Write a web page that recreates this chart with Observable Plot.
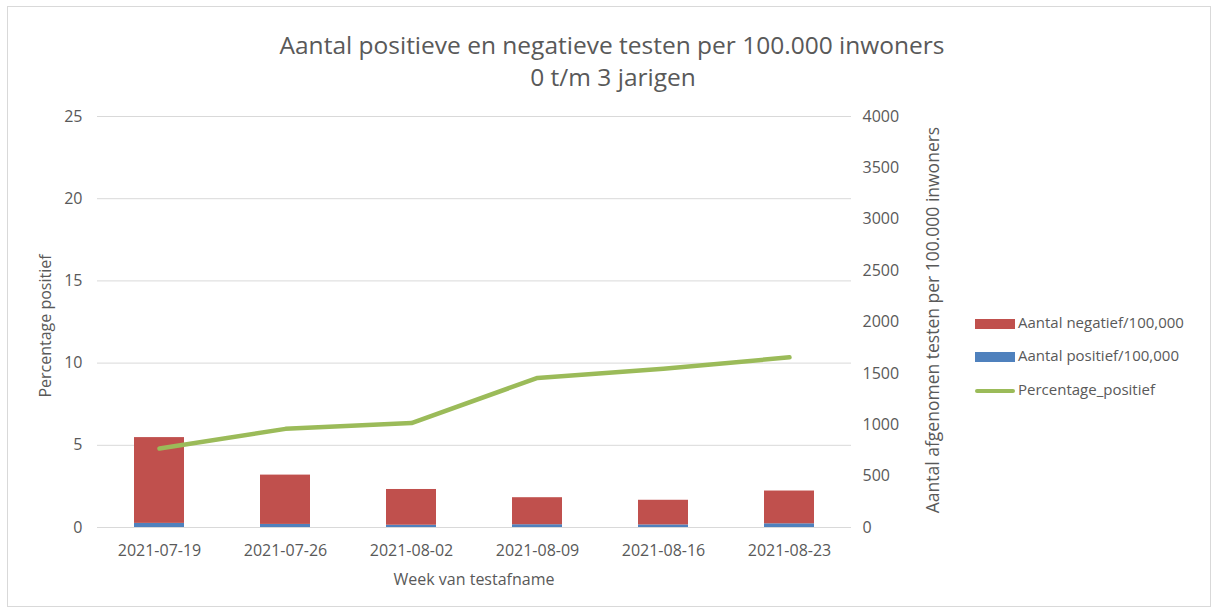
<!DOCTYPE html>
<html><head><meta charset="utf-8">
<script src="https://cdn.jsdelivr.net/npm/d3@7"></script>
<script src="https://cdn.jsdelivr.net/npm/@observablehq/plot@0.6"></script>
<style>
body{margin:0;background:#fff;font-family:"Open Sans",sans-serif;color:#595959;}
#wrap{position:relative;width:1219px;height:615px;overflow:hidden;}
#border{position:absolute;left:7px;top:6px;width:1204px;height:601px;border:1px solid #d9d9d9;box-sizing:border-box;}
.t{position:absolute;white-space:nowrap;transform:translate(-50%,-50%);}
.rot{transform:translate(-50%,-50%) rotate(-90deg);}
#plot{position:absolute;left:0;top:0;}
.lg{position:absolute;left:975px;font-size:15px;white-space:nowrap;}
.lg span.sw{display:inline-block;width:40px;vertical-align:middle;margin-right:3px;}
</style></head><body>
<div id="wrap">
<div id="border"></div>
<div id="plot"></div>
<div class="t" style="left:612px;top:44px;font-size:24.5px;">Aantal positieve en negatieve testen per 100.000 inwoners</div>
<div class="t" style="left:613px;top:76px;font-size:24.5px;">0 t/m 3 jarigen</div>
<div class="t rot" style="left:45px;top:326px;font-size:16px;">Percentage positief</div>
<div class="t rot" style="left:932px;top:320px;font-size:17.5px;">Aantal afgenomen testen per 100.000 inwoners</div>
<div class="t" style="left:474px;top:579px;font-size:16px;">Week van testafname</div>
<div id="legend"></div>
</div>
<script>
const weeks = ["2021-07-19","2021-07-26","2021-08-02","2021-08-09","2021-08-16","2021-08-23"];
const positief = [40, 30, 22, 27, 25, 36];
const negatief = [835, 480, 348, 263, 240, 319];
const percentage = [4.8, 6.0, 6.35, 9.1, 9.65, 10.35];
const leftTicks = [0, 5, 10, 15, 20, 25];
const rightTicks = [0, 500, 1000, 1500, 2000, 2500, 3000, 3500, 4000];
const seriesNames = ["Aantal negatief/100,000", "Aantal positief/100,000", "Percentage_positief"];
const colors = {neg: "#c0504d", pos: "#4f81bd", pct: "#9bbb59"};

const k = 25 / 4000;
const bars = weeks.flatMap((w, i) => [
  {week: w, series: "positief", value: positief[i]},
  {week: w, series: "negatief", value: negatief[i]}
]);
const linePts = weeks.map((w, i) => ({week: w, pct: percentage[i]}));

const chart = Plot.plot({
  width: 1219,
  height: 615,
  marginLeft: 97,
  marginRight: 368,
  marginTop: 116,
  marginBottom: 88,
  style: {fontFamily: "'Open Sans', sans-serif", color: "#595959", background: "transparent"},
  x: {domain: weeks, paddingInner: 0.6, paddingOuter: 0.28, label: null},
  y: {domain: [0, 25], label: null},
  color: {domain: ["positief", "negatief"], range: [colors.pos, colors.neg]},
  marks: [
    Plot.ruleY(leftTicks, {stroke: "#d9d9d9", strokeWidth: 1}),
    Plot.barY(bars, {x: "week", y: d => d.value * k, fill: "series"}),
    Plot.line(linePts, {x: "week", y: "pct", stroke: colors.pct, strokeWidth: 4.5, strokeLinejoin: "round"}),
    Plot.axisX({tickSize: 0, tickPadding: 17, fontSize: 16, label: null}),
    Plot.axisY(leftTicks, {anchor: "left", tickSize: 0, tickPadding: 15, fontSize: 16, label: null}),
    Plot.axisY(rightTicks.map(v => v * k), {anchor: "right", tickSize: 0, tickPadding: 11, fontSize: 16, label: null,
      tickFormat: d => String(Math.round(d / k))})
  ]
});
document.getElementById("plot").appendChild(chart);

const lg = document.getElementById("legend");
const items = [
  {name: seriesNames[0], color: colors.neg, h: 10, top: 322},
  {name: seriesNames[1], color: colors.pos, h: 10, top: 355},
  {name: seriesNames[2], color: colors.pct, h: 4, top: 389}
];
items.forEach(it => {
  const d = document.createElement("div");
  d.className = "lg";
  d.style.top = (it.top - 11) + "px";
  d.style.lineHeight = "22px";
  d.innerHTML = `<span class="sw" style="height:${it.h}px;background:${it.color};border-radius:${it.h < 6 ? 2 : 0}px"></span>${it.name}`;
  lg.appendChild(d);
});
</script>
</body></html>
